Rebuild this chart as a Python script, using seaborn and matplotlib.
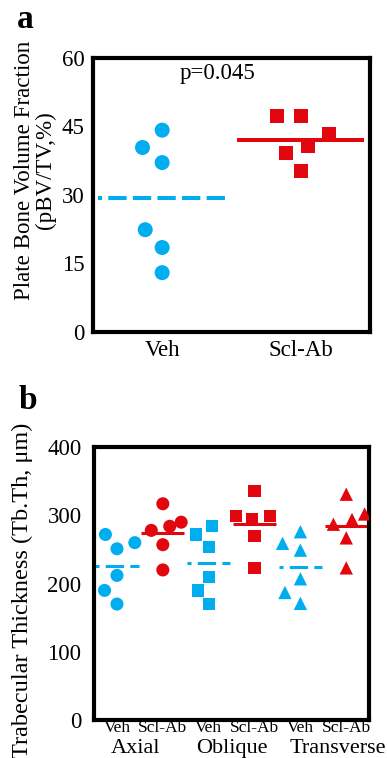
import numpy as np
import pandas as pd
import matplotlib
matplotlib.use("Agg")
import matplotlib.pyplot as plt
import seaborn as sns

# panel a: plate bone volume fraction (%)
treatments = ["Veh", "Scl-Ab"]
veh_pbv = [44.2, 40.4, 37.1, 22.4, 18.5, 13.0]
scl_pbv = [47.2, 47.2, 43.3, 40.7, 39.1, 35.2]
p_label = "p=0.045"

# panel b: trabecular thickness (um) by orientation
regions = ["Axial", "Oblique", "Transverse"]
axial_veh = [272, 260, 251, 212, 190, 170]
axial_scl = [317, 290, 284, 278, 257, 220]
oblique_veh = [284, 272, 254, 210, 190, 170]
oblique_scl = [336, 299, 299, 295, 270, 223]
transverse_veh = [276, 259, 249, 207, 187, 171]
transverse_scl = [331, 302, 294, 287, 267, 223]

blue = "#00AEEF"
red = "#E2070F"
palette = {"Veh": blue, "Scl-Ab": red}
font = "Liberation Serif"

sns.set_style("white")
plt.rcParams["font.family"] = [font, "DejaVu Serif"]
plt.rcParams["lines.scale_dashes"] = False
for key in ["text.color", "axes.labelcolor", "xtick.color", "ytick.color"]:
    plt.rcParams[key] = "black"

fig = plt.figure(figsize=(3.87, 7.58), dpi=100)
ax_a = fig.add_axes([0.240, 0.562, 0.716, 0.3615])
ax_b = fig.add_axes([0.243, 0.0501, 0.711, 0.360])

# dash pattern with a short stub at the start, like the original
veh_dash = (10.3, (13.2, 4.5))


def style_box(ax):
    for s in ax.spines.values():
        s.set_visible(True)
        s.set_color("black")
        s.set_linewidth(3)


# ---------------- panel a ----------------
df_a = pd.DataFrame({
    "group": ["Veh"] * len(veh_pbv) + ["Scl-Ab"] * len(scl_pbv),
    "value": veh_pbv + scl_pbv,
})
for grp, mk, sz in [("Veh", "o", 10.8), ("Scl-Ab", "s", 10.0)]:
    sns.swarmplot(data=df_a[df_a.group == grp], x="group", y="value",
                  order=treatments, color=palette[grp], marker=mk, size=sz,
                  linewidth=6.5, edgecolor="none", ax=ax_a)

for i, grp in enumerate(treatments):
    m = df_a.loc[df_a.group == grp, "value"].mean()
    ls = veh_dash if grp == "Veh" else "-"
    ax_a.plot([i - 0.46, i + 0.46], [m, m], color=palette[grp], lw=2.9,
              ls=ls, solid_capstyle="butt", dash_capstyle="butt", zorder=2)

ax_a.set_xlim(-0.5, 1.5)
ax_a.set_ylim(0, 60)
ax_a.set_yticks([0, 15, 30, 45, 60])
ax_a.set_xlabel("")
ax_a.set_ylabel("Plate Bone Volume Fraction\n(pBV/TV,%)", fontsize=16.6,
                linespacing=1.0)
ax_a.yaxis.set_label_coords(-0.134, 0.59)
ax_a.tick_params(length=0, labelsize=16.5, pad=6)
ax_a.text(0.448, 0.945, p_label, transform=ax_a.transAxes, ha="center",
          va="center", fontsize=16.5)
style_box(ax_a)

# ---------------- panel b ----------------
b_values = [axial_veh, axial_scl, oblique_veh, oblique_scl,
            transverse_veh, transverse_scl]
rows = []
k = 0
for r in regions:
    for t in treatments:
        for v in b_values[k]:
            rows.append({"region": r, "treatment": t,
                         "group": r + " " + t, "value": v})
        k += 1
df_b = pd.DataFrame(rows)
order_b = [r + " " + t for r in regions for t in treatments]

markers = {"Axial": "o", "Oblique": "s", "Transverse": "^"}
msize = {"Axial": 9.4, "Oblique": 8.8, "Transverse": 9.6}
for r in regions:
    sns.swarmplot(data=df_b[df_b.region == r], x="group", y="value",
                  hue="treatment", palette=palette, order=order_b,
                  marker=markers[r], size=msize[r], linewidth=3.6,
                  edgecolor="none", legend=False, ax=ax_b)

for i, g in enumerate(order_b):
    sub = df_b[df_b.group == g]
    t = sub.treatment.iloc[0]
    m = sub.value.mean()
    ls = (10.3, (13.2, 4.5)) if t == "Veh" else "-"
    ax_b.plot([i - 0.47, i + 0.47], [m, m], color=palette[t], lw=2.2, ls=ls,
              solid_capstyle="butt", dash_capstyle="butt", zorder=2)

ax_b.set_xlim(-0.5, len(order_b) - 0.5)
ax_b.set_ylim(0, 400)
ax_b.set_yticks([0, 100, 200, 300, 400])
ax_b.set_xticks(range(len(order_b)))
ax_b.set_xticklabels([t for r in regions for t in treatments], fontsize=12.5)
ax_b.set_xlabel("")
ax_b.tick_params(axis="y", length=0, labelsize=16.5, pad=9)
ax_b.tick_params(axis="x", length=0, pad=0)
ax_b.set_ylabel("Trabecular Thickness (Tb.Th, μm)", fontsize=17.5)
ax_b.yaxis.set_label_coords(-0.222, 0.476)
# group names under the tick labels; the last one is right-aligned to stay inside
ax_b.text(0.4, -0.122, regions[0], transform=ax_b.get_xaxis_transform(),
          ha="center", va="baseline", fontsize=16)
ax_b.text(2.5, -0.122, regions[1], transform=ax_b.get_xaxis_transform(),
          ha="center", va="baseline", fontsize=16)
ax_b.text(5.86, -0.122, regions[2], transform=ax_b.get_xaxis_transform(),
          ha="right", va="baseline", fontsize=16)
style_box(ax_b)

fig.text(0.044, 0.963, "a", fontsize=24, fontweight="bold", va="baseline")
fig.text(0.047, 0.46, "b", fontsize=24, fontweight="bold", va="baseline")

fig.savefig("out.png", dpi=100)
